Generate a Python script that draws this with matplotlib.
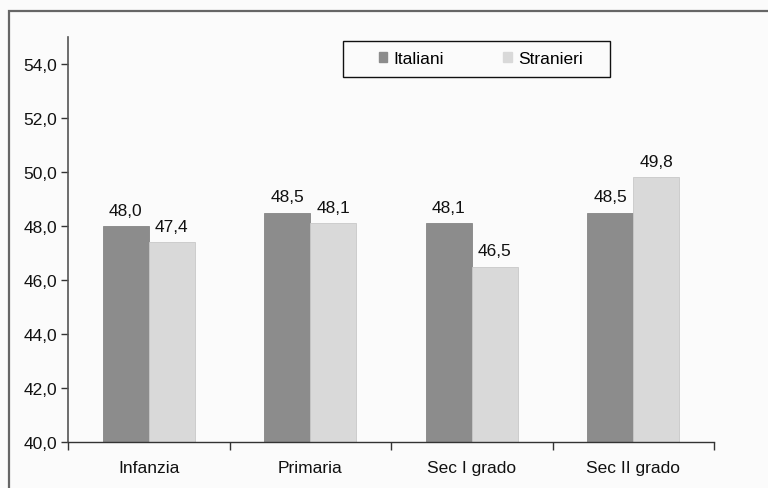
import matplotlib
matplotlib.use("Agg")
import matplotlib.pyplot as plt
import numpy as np
from matplotlib.patches import Rectangle, Patch
from matplotlib.ticker import FixedLocator, FuncFormatter

categories = ["Infanzia", "Primaria", "Sec I grado", "Sec II grado"]
italiani = [48.0, 48.5, 48.1, 48.5]
stranieri = [47.4, 48.1, 46.5, 49.8]
series_names = ["Italiani", "Stranieri"]
y_ticks = [40, 42, 44, 46, 48, 50, 52, 54]

plt.rcParams["font.family"] = ["Liberation Sans", "DejaVu Sans"]
plt.rcParams["font.size"] = 12.5

W, H = 768, 489
fig = plt.figure(figsize=(W / 100, H / 100), dpi=100, facecolor="#fbfbfb")
ax = fig.add_axes([68 / W, 1 - 443 / H, (714 - 68) / W, (443 - 38) / H])
ax.set_facecolor("#fbfbfb")

# outer frame (open at right and bottom)
fig.add_artist(Rectangle((9 / W, -0.1), 1.2, 1 - 12 / H + 0.1,
                         transform=fig.transFigure, fill=False,
                         edgecolor="#666666", linewidth=1.6))

dark, light = "#8c8c8c", "#d9d9d9"
x = np.arange(len(categories))
bw = 1 / 3.5
ax.bar(x - bw / 2, [v - 40 for v in italiani], bw, bottom=40,
       color=dark, edgecolor="#858585", linewidth=0.6)
ax.bar(x + bw / 2, [v - 40 for v in stranieri], bw, bottom=40,
       color=light, edgecolor="#c8c8c8", linewidth=0.6)

for xs, vals in ((x - bw / 2, italiani), (x + bw / 2, stranieri)):
    for xi, v in zip(xs, vals):
        ax.annotate(f"{v:.1f}".replace(".", ","), (xi, v), xytext=(0, 6),
                    textcoords="offset points", ha="center", va="bottom",
                    color="#111111")

ax.set_xlim(-0.5, len(categories) - 0.5)
ax.set_ylim(40, 55)
ax.yaxis.set_major_locator(FixedLocator(y_ticks))
ax.yaxis.set_major_formatter(FuncFormatter(lambda v, p: f"{v:.1f}".replace(".", ",")))

ax.set_xticks(x)
ax.set_xticklabels(categories)
ax.tick_params(axis="x", which="major", length=0, pad=13, colors="#111111")
ax.set_xticks(np.arange(len(categories) + 1) - 0.5, minor=True)
ax.tick_params(axis="x", which="minor", length=6, width=1, color="#333333")
ax.tick_params(axis="y", length=5, width=1, color="#333333", labelcolor="#111111", pad=3)

for s in ("top", "right"):
    ax.spines[s].set_visible(False)
ax.spines["left"].set_color("#555555")
ax.spines["bottom"].set_color("#333333")
ax.spines["left"].set_linewidth(1.2)
ax.spines["bottom"].set_linewidth(1.0)

# legend box
fig.add_artist(Rectangle((343 / W, 1 - 78 / H), (610 - 343) / W, (78 - 42) / H,
                         transform=fig.transFigure, fill=True, facecolor="#fbfbfb",
                         edgecolor="#111111", linewidth=1.0, zorder=5))
handles = [Patch(facecolor=dark, edgecolor=dark), Patch(facecolor=light, edgecolor=light)]
leg = fig.legend(handles, series_names, loc="center",
                 bbox_to_anchor=(481 / W, 1 - 60 / H),
                 ncol=2, frameon=False,
                 handlelength=0.48, handleheight=0.48, handletextpad=0.4,
                 borderpad=0, borderaxespad=0, columnspacing=3.4)
leg.set_zorder(6)

fig.savefig("out.png", dpi=100, facecolor=fig.get_facecolor())
